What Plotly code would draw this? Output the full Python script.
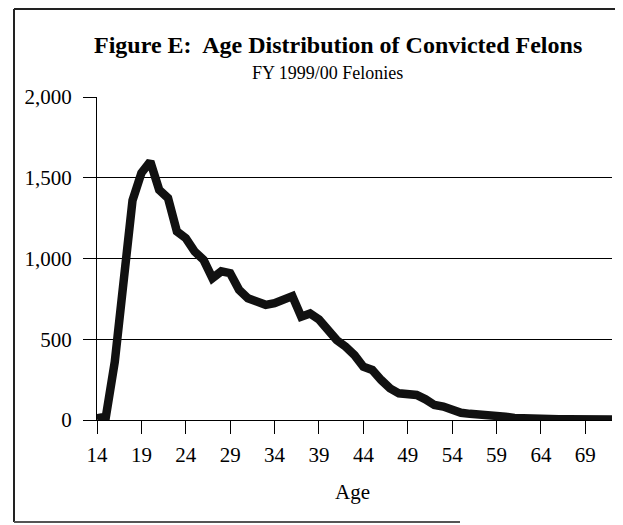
import plotly.graph_objects as go

ages = list(range(14, 73))
convicted = [
    10, 20, 360, 880, 1360, 1530, 1600, 1425, 1374, 1167, 1126, 1043, 992, 878, 920, 909,
    806, 754, 733, 713, 723, 743, 767, 640, 660, 623, 557, 495, 454, 402, 330,
    310, 248, 196, 165, 155, 155, 128, 93, 83, 58, 45, 38, 37, 35, 30, 21, 12,
    8, 7, 6, 5, 5, 4, 4, 3, 3, 3, 3,
]
x_ticks = list(range(14, 70, 5))
y_ticks = [0, 500, 1000, 1500, 2000]

FONT = "Liberation Serif"

# page body has an 8px margin; work in page pixels and convert
OFF = 8
W, H = 623 - OFF, 525 - OFF
PL, PR, PT, PB = 97, 612, 97, 420  # plot area in page pixels
L, T = PL - OFF, PT - OFF
R, B = W - (PR - OFF), H - (PB - OFF)
pw, ph = W - L - R, H - T - B

def px(x):
    return (x - PL) / pw

def py(y):
    return (PB - y) / ph

fig = go.Figure()
fig.add_trace(go.Scatter(
    x=ages, y=convicted, mode="lines",
    line=dict(color="#111111", width=8.5),
    hoverinfo="x+y", showlegend=False,
))

fig.update_layout(
    width=W, height=H,
    margin=dict(l=L, r=R, t=T, b=B),
    paper_bgcolor="white", plot_bgcolor="white",
    font=dict(family=FONT, color="black", size=21),
    modebar=dict(bgcolor="rgba(0,0,0,0)", color="rgba(0,0,0,0)", activecolor="rgba(0,0,0,0)"),
    xaxis=dict(
        range=[14, 72], tickvals=x_ticks, ticktext=[str(v) for v in x_ticks],
        showgrid=False, zeroline=False, showline=True, linecolor="black", linewidth=1,
        ticks="outside", ticklen=13, tickcolor="black", tickwidth=1,
        ticklabelstandoff=3,
        tickfont=dict(family=FONT, size=21, color="black"),
    ),
    yaxis=dict(
        range=[0, 2000], tickvals=y_ticks, tickformat=",",
        showgrid=True, gridcolor="black", gridwidth=1, zeroline=False,
        showline=True, linecolor="black", linewidth=1,
        ticks="outside", ticklen=13, tickcolor="black", tickwidth=1,
        ticklabelstandoff=7,
        tickfont=dict(family=FONT, size=21, color="black"),
    ),
    annotations=[
        dict(text="<b>Figure E:  Age Distribution of Convicted Felons</b>", xref="paper", yref="paper",
             x=px(338), y=py(45), xanchor="center", yanchor="middle", showarrow=False,
             font=dict(family=FONT, size=24, color="black")),
        dict(text="FY 1999/00 Felonies", xref="paper", yref="paper",
             x=px(327), y=py(73), xanchor="center", yanchor="middle", showarrow=False,
             font=dict(family=FONT, size=18, color="black")),
        dict(text="Age", xref="paper", yref="paper",
             x=px(352), y=py(492), xanchor="center", yanchor="middle", showarrow=False,
             font=dict(family=FONT, size=21, color="black")),
    ],
    shapes=[
        dict(type="line", xref="paper", yref="paper", x0=px(14), x1=px(14), y0=py(9), y1=py(522),
             line=dict(color="#222222", width=2)),
        dict(type="line", xref="paper", yref="paper", x0=px(14), x1=px(623), y0=py(9), y1=py(9),
             line=dict(color="#222222", width=2)),
        dict(type="line", xref="paper", yref="paper", x0=px(14), x1=px(460), y0=py(522), y1=py(522),
             line=dict(color="#555555", width=2)),
    ],
)

fig.write_html("out.html")
